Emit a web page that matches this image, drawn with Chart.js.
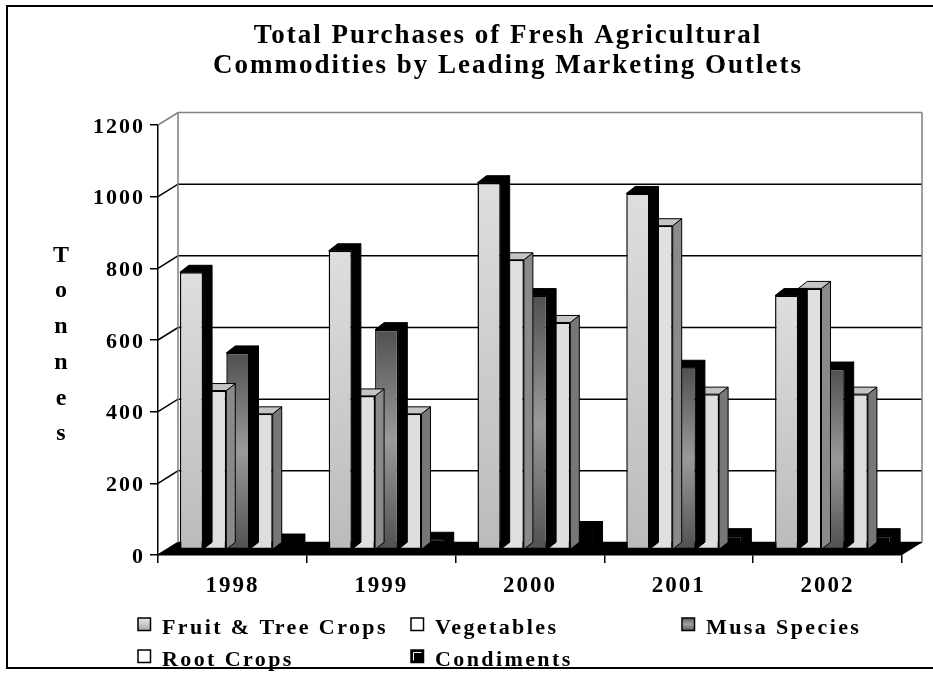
<!DOCTYPE html>
<html>
<head>
<meta charset="utf-8">
<script src="https://cdn.jsdelivr.net/npm/chart.js@4.4.0/dist/chart.umd.min.js"></script>
<style>
  html, body { margin: 0; padding: 0; background: #fff; }
  canvas { display: block; }
</style>
</head>
<body>
<canvas id="purchasesChart" width="933" height="673"></canvas>
<script>
const years = ['1998', '1999', '2000', '2001', '2002'];
const fruitTree = [775, 835, 1025, 995, 710];
const vegetables = [445, 430, 810, 905, 730];
const musa = [550, 615, 710, 510, 505];
const rootCrops = [380, 380, 635, 435, 435];
const condiments = [25, 30, 60, 40, 40];
const yMax = 1200;
const yStep = 200;
const yTitle = 'Tonnes';

const serif = "'Liberation Serif', 'Times New Roman', serif";

// fake 3d: back wall depth and bar depth
const WALL = { dx: 20, dy: -12.5 };
const BAR = { dx: 9, dy: -7, shiftX: 5.5, shiftY: -5 };

function barFill(stops) {
  return function(c) {
    const chart = c.chart;
    if (!chart.chartArea || c.raw === undefined) return stops[0];
    if (stops.length === 1) return stops[0];
    const y = chart.scales.y;
    const top = y.getPixelForValue(c.raw), bottom = y.getPixelForValue(0);
    const g = chart.ctx.createLinearGradient(0, top, 0, bottom);
    stops.forEach((s, i) => g.addColorStop(i / (stops.length - 1), s));
    return g;
  };
}

function series(label, data, front, top, side, swatch) {
  return {
    label: label,
    data: data,
    backgroundColor: barFill(front),
    borderColor: '#000',
    borderWidth: 1.5,
    borderSkipped: false,
    categoryPercentage: 0.78,
    barPercentage: 1.0,
    topColor: top,
    sideColor: side,
    swatch: swatch
  };
}

const datasets = [
  series('Fruit & Tree Crops', fruitTree, ['#dedede', '#bbbbbb'], '#000', '#000', ['#e8e8e8', '#a8a8a8']),
  series('Vegetables', vegetables, ['#e0e0e0'], '#c4c4c4', '#8a8a8a', ['#ffffff']),
  series('Musa Species', musa, ['#505050', '#9a9a9a', '#505050'], '#000', '#000', ['#606060', '#a0a0a0', '#606060']),
  series('Root Crops', rootCrops, ['#dedede'], '#c4c4c4', '#777777', ['#ffffff']),
  series('Condiments', condiments, ['#000'], '#000', '#000', ['#000'])
];

const threeD = {
  id: 'threeD',
  beforeUpdate(chart) { chart.ctx.letterSpacing = '2px'; },
  afterLayout(chart) {
    // let the tick labels of the narrow y axis box draw outside it
    chart.scales.y.left = 20;
  },
  beforeDraw(chart) {
    const ctx = chart.ctx;
    ctx.letterSpacing = '2px';
    ctx.save();
    ctx.strokeStyle = '#000';
    ctx.lineWidth = 2;
    ctx.strokeRect(7, 6, chart.width + 20, 662);
    ctx.restore();
  },
  beforeDatasetsDraw(chart) {
    const ctx = chart.ctx, a = chart.chartArea, y = chart.scales.y;
    ctx.save();
    ctx.lineWidth = 1.5;
    y.ticks.forEach((t, i) => {
      const py = y.getPixelForValue(t.value);
      ctx.strokeStyle = i === y.ticks.length - 1 ? '#808080' : '#000';
      ctx.beginPath();
      ctx.moveTo(a.left, py);
      ctx.lineTo(a.left + WALL.dx, py + WALL.dy);
      ctx.lineTo(a.right + WALL.dx, py + WALL.dy);
      ctx.stroke();
    });
    ctx.strokeStyle = '#808080';
    ctx.beginPath();
    ctx.moveTo(a.left + WALL.dx, a.top + WALL.dy);
    ctx.lineTo(a.left + WALL.dx, a.bottom + WALL.dy);
    ctx.moveTo(a.right + WALL.dx, a.top + WALL.dy);
    ctx.lineTo(a.right + WALL.dx, a.bottom + WALL.dy);
    ctx.stroke();
    // floor
    ctx.fillStyle = '#000';
    ctx.beginPath();
    ctx.moveTo(a.left, a.bottom);
    ctx.lineTo(a.right, a.bottom);
    ctx.lineTo(a.right + WALL.dx, a.bottom + WALL.dy);
    ctx.lineTo(a.left + WALL.dx, a.bottom + WALL.dy);
    ctx.closePath();
    ctx.fill();
    ctx.restore();
    ctx.save();
    ctx.translate(BAR.shiftX, BAR.shiftY);
  },
  afterDatasetDraw(chart, args) {
    const ds = chart.data.datasets[args.index];
    const ctx = chart.ctx;
    ctx.save();
    ctx.lineWidth = 1;
    ctx.strokeStyle = '#000';
    args.meta.data.forEach(bar => {
      const p = bar.getProps(['x', 'y', 'base', 'width'], true);
      const l = p.x - p.width / 2, r = p.x + p.width / 2;
      ctx.fillStyle = ds.sideColor;
      ctx.beginPath();
      ctx.moveTo(r, p.y);
      ctx.lineTo(r + BAR.dx, p.y + BAR.dy);
      ctx.lineTo(r + BAR.dx, p.base + BAR.dy);
      ctx.lineTo(r, p.base);
      ctx.closePath();
      ctx.fill();
      ctx.stroke();
      ctx.fillStyle = ds.topColor;
      ctx.beginPath();
      ctx.moveTo(l, p.y);
      ctx.lineTo(l + BAR.dx, p.y + BAR.dy);
      ctx.lineTo(r + BAR.dx, p.y + BAR.dy);
      ctx.lineTo(r, p.y);
      ctx.closePath();
      ctx.fill();
      ctx.stroke();
    });
    ctx.restore();
  },
  afterDatasetsDraw(chart) { chart.ctx.restore(); },
  afterDraw(chart) {
    const ctx = chart.ctx, a = chart.chartArea;
    ctx.save();
    ctx.fillStyle = '#000';
    // vertical axis title, one letter per line
    ctx.letterSpacing = '0px';
    ctx.font = 'bold 24px ' + serif;
    ctx.textAlign = 'center';
    ctx.textBaseline = 'alphabetic';
    const letters = yTitle.split('');
    const mid = (a.top + a.bottom) / 2 + 11;
    letters.forEach((ch, i) => {
      ctx.fillText(ch, 61, mid + (i - (letters.length - 1) / 2) * 35.7);
    });
    // legend, two rows on a three column grid
    const cols = [a.left - 20, a.left + 253, a.left + 524];
    const rows = [a.bottom + 79, a.bottom + 111];
    ctx.font = 'bold 22px ' + serif;
    ctx.letterSpacing = '2.4px';
    ctx.textAlign = 'left';
    chart.data.datasets.forEach((ds, i) => {
      const x = cols[i % 3], yb = rows[Math.floor(i / 3)];
      const bx = x, by = yb - 16, s = 12.5;
      let fill = ds.swatch[0];
      if (ds.swatch.length > 1) {
        fill = ctx.createLinearGradient(0, by, 0, by + s);
        ds.swatch.forEach((c, k) => fill.addColorStop(k / (ds.swatch.length - 1), c));
      }
      ctx.fillStyle = fill;
      ctx.fillRect(bx, by, s, s);
      if (ds.label === 'Condiments') {
        ctx.strokeStyle = '#fff';
        ctx.lineWidth = 1;
        ctx.beginPath();
        ctx.moveTo(bx + 2.5, by + s - 2);
        ctx.lineTo(bx + 2.5, by + 2.5);
        ctx.lineTo(bx + s - 2, by + 2.5);
        ctx.stroke();
      }
      ctx.strokeStyle = '#000';
      ctx.lineWidth = 1.5;
      ctx.strokeRect(bx, by, s, s);
      ctx.fillStyle = '#000';
      ctx.fillText(ds.label, x + 24, yb);
    });
    ctx.restore();
  }
};

const config = {
  type: 'bar',
  data: { labels: years, datasets: datasets },
  options: {
    responsive: false,
    animation: false,
    layout: { padding: { left: 114, right: 31, top: 6, bottom: 73 } },
    plugins: {
      legend: { display: false },
      tooltip: { enabled: false },
      title: {
        display: true,
        text: ['Total Purchases of Fresh Agricultural', 'Commodities by Leading Marketing Outlets'],
        color: '#000',
        font: { family: serif, size: 27, weight: 'bold', lineHeight: 30 / 27 },
        padding: { top: 15, bottom: 44 }
      }
    },
    scales: {
      x: {
        afterFit(scale) { scale.height = 45; },
        grid: { offset: true, drawOnChartArea: false, drawTicks: true, tickLength: 8, color: '#000', lineWidth: 1.5 },
        border: { color: '#000', width: 1.5 },
        ticks: { color: '#000', padding: 9, font: { family: serif, size: 23, weight: 'bold' } }
      },
      y: {
        min: 0,
        max: yMax,
        afterFit(scale) { scale.width = 44; },
        grid: { drawOnChartArea: false, drawTicks: true, tickLength: 8, color: '#000', lineWidth: 1.5 },
        border: { color: '#000', width: 1.5 },
        ticks: {
          stepSize: yStep,
          color: '#000',
          padding: 5,
          labelOffset: 2,
          font: { family: serif, size: 22, weight: 'bold' },
          callback: v => String(v)
        }
      }
    }
  },
  plugins: [threeD]
};

window.onload = function() {
  const ctx = document.getElementById('purchasesChart').getContext('2d');
  new Chart(ctx, config);
};
</script>
</body>
</html>
